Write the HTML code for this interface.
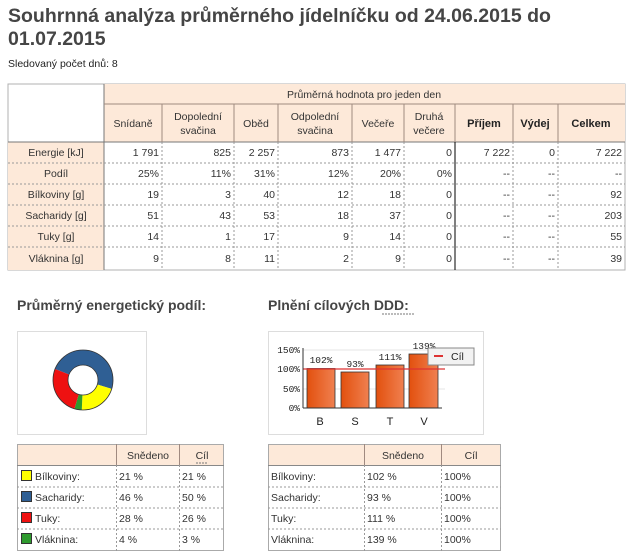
<!DOCTYPE html>
<html><head><meta charset="utf-8"><style>
html,body{margin:0;padding:0;background:#fff;}
svg{display:block;font-family:"Liberation Sans",sans-serif;}
</style></head><body>
<svg width="633" height="556" viewBox="0 0 633 556" xmlns="http://www.w3.org/2000/svg">
<g fill="#454545" font-weight="bold" font-size="19.5">
<text x="8" y="22">Souhrnná analýza průměrného jídelníčku od 24.06.2015 do</text>
<text x="8" y="45">01.07.2015</text>
</g>
<text x="8" y="67" font-size="10.5" fill="#222">Sledovaný počet dnů: 8</text>

<!-- main table -->
<g>
<rect x="8" y="84" width="617" height="186" fill="#fff" stroke="#b0b0b0"/>
<rect x="104" y="84" width="521" height="58" fill="#fde9d9"/>
<rect x="8" y="142" width="96" height="128" fill="#fde9d9"/>
<g stroke="#a08a80" stroke-width="1" fill="none">
<line x1="104" y1="84" x2="104" y2="270" stroke="#777"/>
<line x1="104" y1="104" x2="625" y2="104"/>
<line x1="8" y1="142" x2="625" y2="142" stroke="#777"/>
<line x1="162" y1="104" x2="162" y2="142"/><line x1="234" y1="104" x2="234" y2="142"/>
<line x1="278" y1="104" x2="278" y2="142"/><line x1="352" y1="104" x2="352" y2="142"/>
<line x1="404" y1="104" x2="404" y2="142"/><line x1="455" y1="104" x2="455" y2="142"/>
<line x1="513" y1="104" x2="513" y2="142"/><line x1="558" y1="104" x2="558" y2="142"/>
</g>
<g stroke="#999" stroke-dasharray="2,2">
<line x1="8" y1="163" x2="625" y2="163"/><line x1="8" y1="184" x2="625" y2="184"/>
<line x1="8" y1="205" x2="625" y2="205"/><line x1="8" y1="226" x2="625" y2="226"/>
<line x1="8" y1="247" x2="625" y2="247"/>
<line x1="162" y1="142" x2="162" y2="270"/><line x1="234" y1="142" x2="234" y2="270"/>
<line x1="278" y1="142" x2="278" y2="270"/><line x1="352" y1="142" x2="352" y2="270"/>
<line x1="404" y1="142" x2="404" y2="270"/>
<line x1="513" y1="142" x2="513" y2="270"/><line x1="558" y1="142" x2="558" y2="270"/>
</g>
<line x1="455" y1="142" x2="455" y2="270" stroke="#000"/>
<g font-size="10.5" fill="#333" text-anchor="middle">
<text x="364" y="98">Průměrná hodnota pro jeden den</text>
<text x="133" y="127">Snídaně</text>
<text x="198" y="120">Dopolední</text><text x="198" y="134">svačina</text>
<text x="256" y="127">Oběd</text>
<text x="315" y="120">Odpolední</text><text x="315" y="134">svačina</text>
<text x="378" y="127">Večeře</text>
<text x="429" y="120">Druhá</text><text x="429" y="134">večere</text>
<g font-weight="bold" fill="#222" font-size="11"><text x="484" y="127">Příjem</text><text x="535" y="127">Výdej</text><text x="591" y="127">Celkem</text></g>
<text x="56" y="156">Energie [kJ]</text><text x="56" y="177">Podíl</text>
<text x="56" y="198">Bílkoviny [g]</text><text x="56" y="219">Sacharidy [g]</text>
<text x="56" y="240">Tuky [g]</text><text x="56" y="262">Vláknina [g]</text>
</g>
<g font-size="10.5" fill="#333" text-anchor="end">
<g transform="translate(0,156)"><text x="159">1 791</text><text x="231">825</text><text x="275">2 257</text><text x="349">873</text><text x="401">1 477</text><text x="452">0</text><text x="510">7 222</text><text x="555">0</text><text x="622">7 222</text></g>
<g transform="translate(0,177)"><text x="159">25%</text><text x="231">11%</text><text x="275">31%</text><text x="349">12%</text><text x="401">20%</text><text x="452">0%</text><text x="510">--</text><text x="555">--</text><text x="622">--</text></g>
<g transform="translate(0,198)"><text x="159">19</text><text x="231">3</text><text x="275">40</text><text x="349">12</text><text x="401">18</text><text x="452">0</text><text x="510">--</text><text x="555">--</text><text x="622">92</text></g>
<g transform="translate(0,219)"><text x="159">51</text><text x="231">43</text><text x="275">53</text><text x="349">18</text><text x="401">37</text><text x="452">0</text><text x="510">--</text><text x="555">--</text><text x="622">203</text></g>
<g transform="translate(0,240)"><text x="159">14</text><text x="231">1</text><text x="275">17</text><text x="349">9</text><text x="401">14</text><text x="452">0</text><text x="510">--</text><text x="555">--</text><text x="622">55</text></g>
<g transform="translate(0,262)"><text x="159">9</text><text x="231">8</text><text x="275">11</text><text x="349">2</text><text x="401">9</text><text x="452">0</text><text x="510">--</text><text x="555">--</text><text x="622">39</text></g>
</g>
</g>

<!-- section headings -->
<g font-size="14" font-weight="bold" fill="#454545">
<text x="17" y="310">Průměrný energetický podíl:</text>
<text x="268" y="310">Plnění cílových DDD:</text>
</g>
<line x1="382" y1="314" x2="414" y2="314" stroke="#777" stroke-dasharray="2,1"/>

<!-- donut -->
<rect x="17.5" y="331.5" width="129" height="103" fill="#fff" stroke="#ddd"/>
<g transform="translate(83,380) rotate(-90)" fill="none" stroke-width="15">
<!-- circumference 2*pi*22.5 = 141.37 -->
<circle r="22.5" stroke="#2f5f94" stroke-dasharray="69.2 141.4" stroke-dashoffset="-114.3"/>
<circle r="22.5" stroke="#2f5f94" stroke-dasharray="42.1 141.4" stroke-dashoffset="0"/>
<circle r="22.5" stroke="#ffff00" stroke-dasharray="29.4 141.4" stroke-dashoffset="-42.1"/>
<circle r="22.5" stroke="#2e9a2e" stroke-dasharray="5.6 141.4" stroke-dashoffset="-71.5"/>
<circle r="22.5" stroke="#ee1111" stroke-dasharray="37.2 141.4" stroke-dashoffset="-77.1"/>
</g>
<circle cx="83" cy="380" r="30" fill="none" stroke="#333" stroke-width="0.8"/>
<circle cx="83" cy="380" r="15" fill="none" stroke="#333" stroke-width="0.8"/>

<!-- bar chart -->
<rect x="268.5" y="331.5" width="215" height="103" fill="#fff" stroke="#ddd"/>
<line x1="303" y1="389" x2="445" y2="389" stroke="#e4e4e4"/>
<line x1="303" y1="350" x2="445" y2="350" stroke="#e4e4e4"/>
<defs><linearGradient id="bg" x1="0" x2="1"><stop offset="0" stop-color="#e2500e"/><stop offset="1" stop-color="#f08050"/></linearGradient></defs>
<g fill="url(#bg)" stroke="#333" stroke-width="0.8">
<rect x="307" y="368.5" width="28" height="39.5"/>
<rect x="341" y="372" width="28" height="36"/>
<rect x="376" y="365" width="28" height="43"/>
<rect x="409" y="354" width="29" height="54"/>
</g>
<line x1="303" y1="369" x2="445" y2="369" stroke="#d33" stroke-width="1.2"/>
<line x1="303" y1="348" x2="303" y2="408" stroke="#333"/>
<line x1="303" y1="408" x2="442" y2="408" stroke="#333"/>
<g font-size="9.5" fill="#222" font-family="Liberation Mono,monospace">
<g text-anchor="end"><text x="300" y="353">150%</text><text x="300" y="372">100%</text><text x="300" y="392">50%</text><text x="300" y="411">0%</text></g>
<g text-anchor="middle"><text x="321" y="363">102%</text><text x="355" y="367">93%</text><text x="390" y="360">111%</text><text x="424" y="349">139%</text></g>
</g>
<g font-size="11" fill="#222" text-anchor="middle"><text x="320" y="425">B</text><text x="355" y="425">S</text><text x="390" y="425">T</text><text x="424" y="425">V</text></g>
<rect x="428" y="348" width="46" height="17" fill="#f2f2f2" stroke="#888"/>
<line x1="434" y1="356" x2="443" y2="356" stroke="#d33" stroke-width="2"/>
<text x="451" y="360" font-size="10.5" fill="#222">Cíl</text>

<!-- left small table -->
<rect x="17.5" y="444.5" width="206" height="106" fill="#fff" stroke="#aaa"/>
<rect x="18" y="445" width="205" height="20" fill="#fde9d9"/>
<line x1="17" y1="465.5" x2="224" y2="465.5" stroke="#888"/>
<line x1="116.5" y1="444" x2="116.5" y2="465" stroke="#a08a80"/><line x1="179.5" y1="444" x2="179.5" y2="465" stroke="#a08a80"/>
<g stroke="#999" stroke-dasharray="2,2">
<line x1="17" y1="487" x2="224" y2="487"/><line x1="17" y1="508" x2="224" y2="508"/><line x1="17" y1="529" x2="224" y2="529"/>
<line x1="116.5" y1="465" x2="116.5" y2="551"/><line x1="179.5" y1="465" x2="179.5" y2="551"/>
</g>
<g font-size="10.5" fill="#333">
<text x="148" y="459" text-anchor="middle">Snědeno</text><text x="202" y="459" text-anchor="middle">Cíl</text>
<rect x="21.5" y="470.5" width="10" height="10" fill="#ffff00" stroke="#333"/>
<rect x="21.5" y="491.5" width="10" height="10" fill="#2f5f94" stroke="#333"/>
<rect x="21.5" y="512.5" width="10" height="10" fill="#ee1111" stroke="#333"/>
<rect x="21.5" y="533.5" width="10" height="10" fill="#2e9a2e" stroke="#333"/>
<text x="35" y="480">Bílkoviny:</text><text x="35" y="501">Sacharidy:</text><text x="35" y="522">Tuky:</text><text x="35" y="543">Vláknina:</text>
<text x="119" y="480">21 %</text><text x="119" y="501">46 %</text><text x="119" y="522">28 %</text><text x="119" y="543">4 %</text>
<text x="182" y="480">21 %</text><text x="182" y="501">50 %</text><text x="182" y="522">26 %</text><text x="182" y="543">3 %</text>
</g>
<line x1="196" y1="463" x2="208" y2="463" stroke="#777" stroke-dasharray="2,1"/>

<!-- right small table -->
<rect x="268.5" y="444.5" width="232" height="106" fill="#fff" stroke="#aaa"/>
<rect x="269" y="445" width="231" height="20" fill="#fde9d9"/>
<line x1="268" y1="465.5" x2="501" y2="465.5" stroke="#888"/>
<line x1="364.5" y1="444" x2="364.5" y2="465" stroke="#a08a80"/><line x1="441.5" y1="444" x2="441.5" y2="465" stroke="#a08a80"/>
<g stroke="#999" stroke-dasharray="2,2">
<line x1="268" y1="487" x2="501" y2="487"/><line x1="268" y1="508" x2="501" y2="508"/><line x1="268" y1="529" x2="501" y2="529"/>
<line x1="364.5" y1="465" x2="364.5" y2="551"/><line x1="441.5" y1="465" x2="441.5" y2="551"/>
</g>
<g font-size="10.5" fill="#333">
<text x="403" y="459" text-anchor="middle">Snědeno</text><text x="471" y="459" text-anchor="middle">Cíl</text>
<text x="271" y="480">Bílkoviny:</text><text x="271" y="501">Sacharidy:</text><text x="271" y="522">Tuky:</text><text x="271" y="543">Vláknina:</text>
<text x="367" y="480">102 %</text><text x="367" y="501">93 %</text><text x="367" y="522">111 %</text><text x="367" y="543">139 %</text>
<text x="444" y="480">100%</text><text x="444" y="501">100%</text><text x="444" y="522">100%</text><text x="444" y="543">100%</text>
</g>
</svg>
</body></html>
